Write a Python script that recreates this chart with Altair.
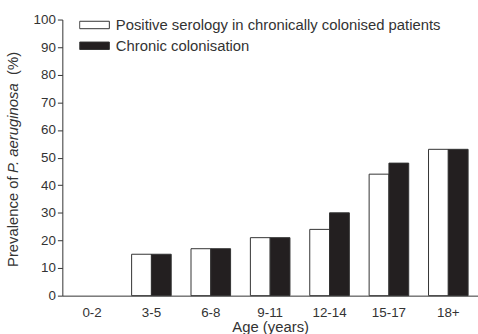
import altair as alt
import pandas as pd

ages = ["0-2", "3-5", "6-8", "9-11", "12-14", "15-17", "18+"]
serology = [0, 15, 17, 21, 24, 44, 53]
colonisation = [0, 15, 17, 21, 30, 48, 53]
series = ["Positive serology in chronically colonised patients", "Chronic colonisation"]

rows = []
for a, s, c in zip(ages, serology, colonisation):
    rows.append({"age": a, "series": series[0], "value": s})
    rows.append({"age": a, "series": series[1], "value": c})
df = pd.DataFrame(rows)

FONT = "Liberation Sans"
INK = "#333333"

bars = alt.Chart(df).mark_bar(stroke=INK, strokeWidth=1).encode(
    x=alt.X("age:N", sort=ages,
            scale=alt.Scale(paddingInner=1/3, paddingOuter=1/6),
            axis=alt.Axis(title="Age (years)", labelAngle=0, ticks=False,
                          labelPadding=10, titlePadding=1)),
    xOffset=alt.XOffset("series:N", sort=series),
    y=alt.Y("value:Q", scale=alt.Scale(domain=[0, 100]),
            axis=alt.Axis(title=None, values=list(range(0, 101, 10)),
                          grid=False, tickSize=5, labelPadding=2)),
    color=alt.Color("series:N", sort=series,
                    scale=alt.Scale(domain=series, range=["#ffffff", "#231f20"]),
                    legend=alt.Legend(title=None, orient="none", legendX=17, legendY=-2,
                                      symbolType="M-1,-0.25H1V0.25H-1Z", symbolSize=900,
                                      symbolStrokeColor=INK, symbolStrokeWidth=1,
                                      symbolOpacity=1, clipHeight=15,
                                      labelFontSize=15, labelFont=FONT, labelColor=INK,
                                      labelLimit=0, labelOffset=6, rowPadding=5)),
    strokeOpacity=alt.condition("datum.value > 0", alt.value(1), alt.value(0)),
)

# y-axis title with the species name set in italics
title_parts = [
    ("Prevalence of ", "normal", 250),
    ("P. aeruginosa", "italic", 155),
    ("(%)", "normal", 56),
]
title_layers = [
    alt.Chart(pd.DataFrame({"t": [txt]})).mark_text(
        angle=270, align="left", baseline="middle", fontSize=15, font=FONT,
        fontStyle=style, color=INK,
    ).encode(text="t:N", x=alt.value(-50), y=alt.value(ypos))
    for txt, style, ypos in title_parts
]

chart = alt.layer(bars, *title_layers).properties(
    width=420, height=279,
    autosize=alt.AutoSizeParams(type="none"),
    padding={"left": 63, "top": 18, "right": 0, "bottom": 37},
).configure_view(stroke=None).configure_axis(
    labelFont=FONT, titleFont=FONT, labelFontSize=13.5, titleFontSize=15,
    labelColor=INK, titleColor=INK, domainColor=INK, tickColor=INK,
    titleFontWeight="normal",
)

chart.save("out.html", embed_options={"renderer": "svg", "actions": False})
